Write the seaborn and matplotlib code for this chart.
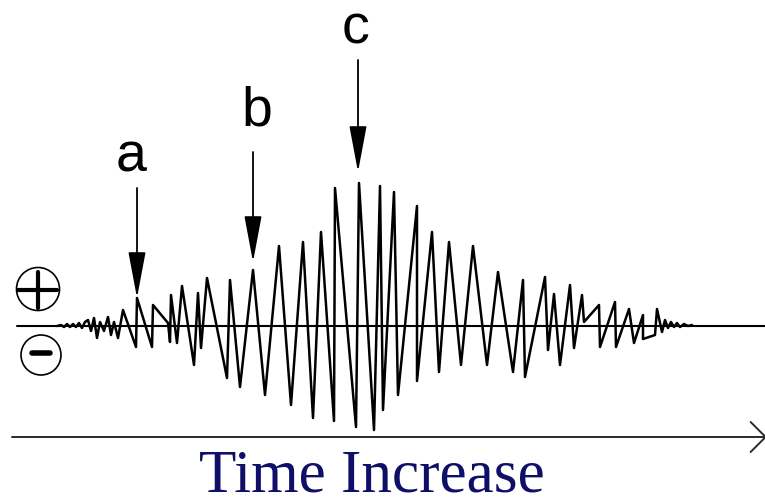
import numpy as np
import pandas as pd
import matplotlib
matplotlib.use("Agg")
import matplotlib.pyplot as plt
import seaborn as sns
from matplotlib.patches import Circle

# waveform vertices (pixel units, y grows downward)
wave_x = [57, 61, 64, 67, 70, 73, 76, 79, 82, 85, 88, 91, 94, 97, 100, 104, 108, 111,
          114, 118, 123, 136, 137, 152, 153, 168, 170, 171, 177, 182, 194, 198, 201,
          207, 227, 230, 240, 253, 265, 279, 291, 303, 313, 321, 334, 335, 356, 359,
          374, 380, 383, 394, 398, 417, 417, 432, 439, 449, 461, 473, 487, 498, 513,
          523, 525, 545, 548, 554, 560, 570, 574, 582, 584, 599, 600, 615, 616, 629,
          634, 643, 643, 655, 657, 662, 665, 668, 671, 674, 677, 680, 684, 688, 692]
wave_y = [326, 325, 327, 324, 327, 324, 327, 323, 328, 322, 320, 331, 318, 338, 322, 331, 317, 335,
          322, 338, 310, 347, 298, 347, 305, 323, 342, 295, 343, 286, 365, 293, 348,
          278, 378, 280, 387, 270, 395, 246, 405, 242, 418, 232, 421, 188, 427, 183,
          430, 186, 410, 192, 395, 206, 381, 232, 372, 242, 365, 246, 365, 272, 372,
          280, 377, 277, 350, 294, 365, 285, 348, 295, 322, 305, 347, 302, 347, 309,
          343, 315, 339, 335, 309, 332, 320, 328, 322, 327, 323, 327, 324, 326, 325]

baseline_y = 326
time_axis_y = 437

# labelled points
marker_labels = ["a", "b", "c"]
marker_x = [137, 253, 358]
marker_top = [188, 152, 60]
marker_tip = [298, 262, 172]
label_x = [131, 257, 356]
label_y = [158, 112, 30]

df = pd.DataFrame({"t": wave_x, "v": wave_y})

sns.set_theme(style="white")
fig = plt.figure(figsize=(7.65, 5.04), dpi=100)
ax = fig.add_axes([0, 0, 1, 1])

# zero line and time axis
ax.plot([17, 765], [baseline_y, baseline_y], color="black", lw=1.5)
ax.annotate("", xy=(767, time_axis_y), xytext=(12, time_axis_y),
            annotation_clip=False,
            arrowprops=dict(arrowstyle="->,head_length=0.9,head_width=0.9",
                            color="#2a2a2a", lw=1.4, shrinkA=0, shrinkB=0))

sns.lineplot(data=df, x="t", y="v", sort=False, estimator=None,
             color="black", lw=1.8, ax=ax)

for x, y0, y1 in zip(marker_x, marker_top, marker_tip):
    ax.annotate("", xy=(x, y1), xytext=(x, y0),
                arrowprops=dict(arrowstyle="-|>,head_length=2.4,head_width=0.45",
                                color="black", lw=1.3, shrinkA=0, shrinkB=0))
for lab, lx, ly in zip(marker_labels, label_x, label_y):
    ax.text(lx, ly, lab, ha="center", va="center", fontsize=40,
            family="Liberation Sans", color="black")

# plus / minus signs
ax.add_patch(Circle((38, 289), 21.5, fill=False, lw=1.2, color="black"))
ax.plot([18, 57], [290, 290], color="black", lw=3)
ax.plot([38, 38], [272, 308], color="black", lw=3)
ax.add_patch(Circle((41, 355), 20, fill=False, lw=1.2, color="black"))
ax.plot([32, 50], [353, 353], color="black", lw=4)

ax.text(372, 477, "Time Increase", ha="center", va="center", fontsize=44,
        family="Liberation Serif", color="#0f0f68")

ax.set_xlim(0, 765)
ax.set_ylim(504, 0)
ax.set_axis_off()

fig.savefig("out.png", dpi=100)
